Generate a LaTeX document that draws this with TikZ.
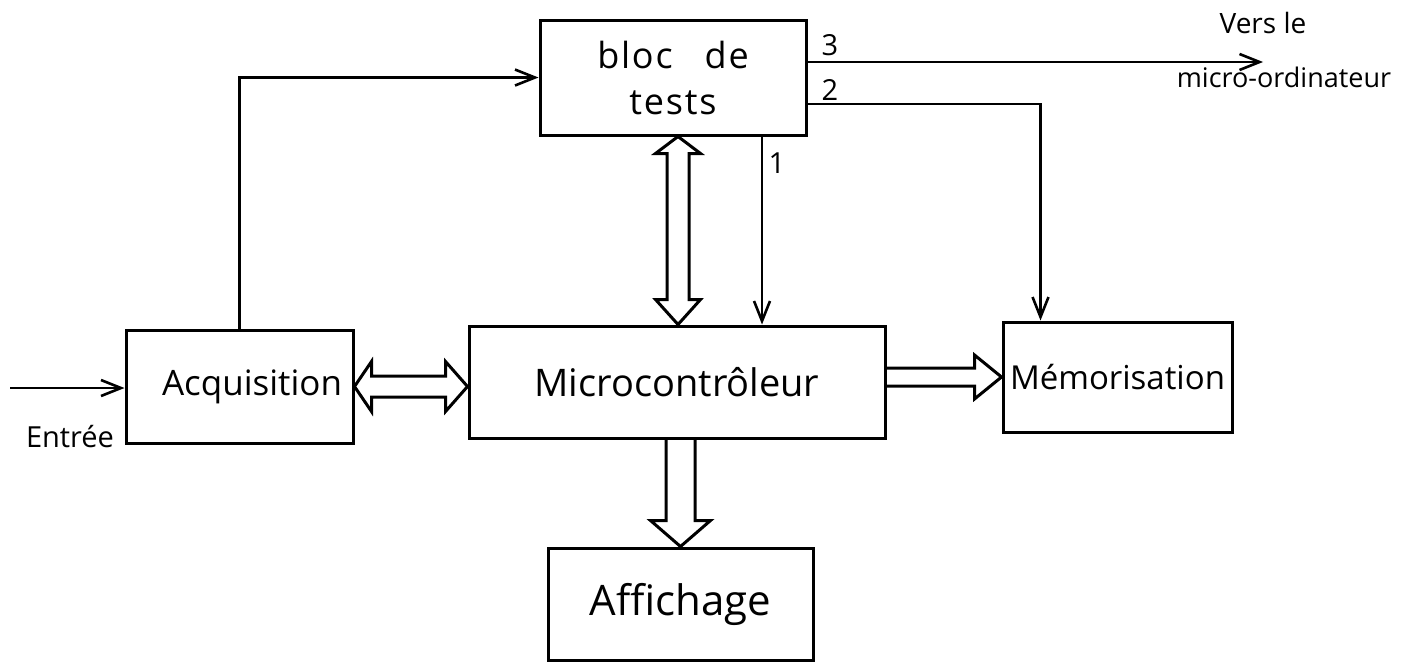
\documentclass[tikz,border=0pt]{standalone}
\usepackage{fontspec}
\setmainfont{Open Sans}
\newfontfamily\handsp[LetterSpace=5]{Open Sans}
\usetikzlibrary{arrows.meta,calc}
\begin{document}
\begin{tikzpicture}[x=1pt,y=-1pt,
  box/.style={draw, line width=3pt, inner sep=0pt, align=center},
  arr/.style={line width=2.6pt, -{Straight Barb[length=20pt,width=16pt,line width=2.6pt]}},
  fat/.style={draw, line width=3pt, line join=miter},
  lab/.style={inner sep=0pt, font=\fontsize{29pt}{29pt}\selectfont}]
\useasboundingbox (0,0) rectangle (1404,662);

% boxes
\node[box, minimum width=266pt, minimum height=115pt,
      font=\handsp\fontsize{36pt}{46pt}\selectfont] (bloc) at (673,77.5)
      {bloc\hspace{32pt}de\\tests};
\node[box, minimum width=227pt, minimum height=113pt,
      font=\fontsize{35pt}{40pt}\selectfont] (acq) at (239.5,386.5) {\hspace{25pt}Acquisition};
\node[box, minimum width=416pt, minimum height=112pt,
      font=\fontsize{38pt}{40pt}\selectfont] (mc) at (677,382) {Microcontrôleur};
\node[box, minimum width=229pt, minimum height=110pt,
      font=\fontsize{33pt}{40pt}\selectfont] (mem) at (1117.5,377) {Mémorisation};
\node[box, minimum width=265pt, minimum height=112pt,
      font=\fontsize{42pt}{45pt}\selectfont] (aff) at (680.5,604) {Affichage};

% free ends
\coordinate (in) at (10,388);
\coordinate (vers) at (1263,62);

% thin connectors
\draw[arr] (in) -- (in -| acq.west);
\draw[arr] (acq.north) |- (bloc.west);
\draw[arr] ([yshift=15.5pt]bloc.east) -- (vers);
\draw[arr] ([yshift=-26.5pt]bloc.east) -| ([xshift=-77pt]mem.north);
\draw[arr] ([xshift=89pt]bloc.south) -- ([xshift=89pt]bloc.south |- mc.north);

% labels
\node[lab, font=\fontsize{29pt}{29pt}\selectfont] (tin) at (70,437) {Entrée};
\node[lab, font=\fontsize{28pt}{28pt}\selectfont] (tvers) at (1263,23) {Vers le};
\node[lab, font=\fontsize{27pt}{27pt}\selectfont] (tmicro) at (1284,77) {micro-ordinateur};
\node[lab] (l3) at (830,45) {3};
\node[lab] (l2) at (830,90) {2};
\node[lab] (l1) at (777,163) {1};

% fat double arrow bloc <-> microcontroleur
\path ([xshift=5pt]bloc.south) coordinate (vt);
\path (vt |- mc.north) coordinate (vb);
\draw[fat] (vt) -- ++(22.5,17) -- ++(-11.5,0) -- ($(vb)+(11,-25)$) -- ++(11.5,0) -- (vb)
  -- ++(-22.5,-25) -- ++(11.5,0) -- ($(vt)+(-11,17)$) -- ++(-11.5,0) -- cycle;

% fat double arrow acquisition <-> microcontroleur
\path (acq.east) coordinate (ha);
\path (acq.east -| mc.west) coordinate (hb);
\draw[fat] (ha) -- ++(17,-25) -- ++(0,14.5) -- ($(hb)+(-22,-10.5)$) -- ++(0,-14.5) -- (hb)
  -- ++(-22,25) -- ++(0,-14.5) -- ($(ha)+(17,10.5)$) -- ++(0,14.5) -- cycle;

% fat arrow microcontroleur -> memorisation
\path (mem.west) coordinate (sb);
\path (mem.west -| mc.east) coordinate (sa);
\draw[fat] ($(sa)+(0,-9)$) -- ($(sb)+(-27,-9)$) -- ++(0,-13) -- (sb) -- ++(-27,22)
  -- ++(0,-13) -- ($(sa)+(0,9)$);

% fat arrow microcontroleur -> affichage
\path (aff.north) coordinate (db);
\path (aff.north |- mc.south) coordinate (da);
\draw[fat] ($(da)+(-14.5,0)$) -- ($(db)+(-14.5,-26)$) -- ++(-15.5,0) -- (db) -- ++(30,-26)
  -- ++(-15.5,0) -- ($(da)+(14.5,0)$);
\end{tikzpicture}
\end{document}
